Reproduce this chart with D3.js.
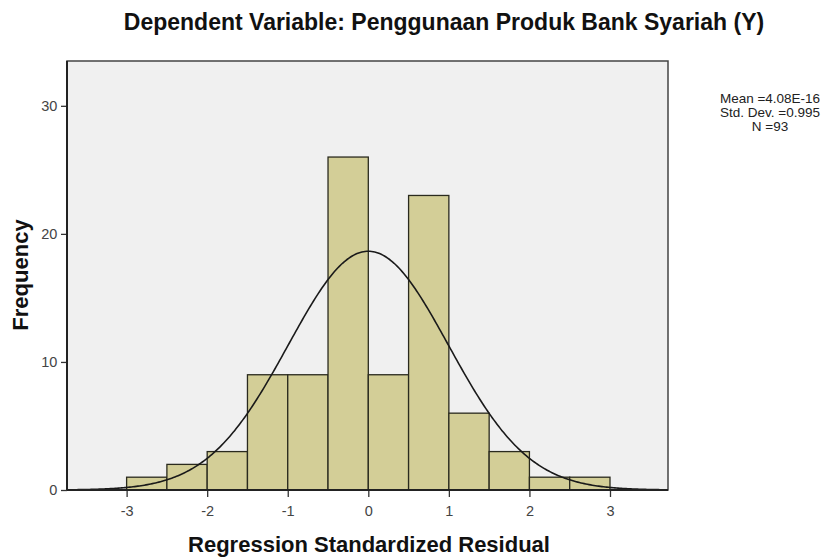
<!DOCTYPE html>
<html><head><meta charset="utf-8">
<script src="https://cdn.jsdelivr.net/npm/d3@7"></script>
<style>body{margin:0;background:#fff}</style>
</head><body>
<script>
const binStarts = [-3,-2.5,-2,-1.5,-1,-0.5,0,0.5,1,1.5,2,2.5];
const binWidth = 0.5;
const counts = [1,2,3,9,9,26,9,23,6,3,1,1];
const xTicks = [-3,-2,-1,0,1,2,3];
const yTicks = [0,10,20,30];
const stats = {mean: 4.08e-16, sd: 0.995, n: 93};
const statLines = ["Mean =4.08E-16","Std. Dev. =0.995","N =93"];
const title = "Dependent Variable: Penggunaan Produk Bank Syariah (Y)";

const W=838,H=559;
const L=67,R=668,T=61,B=490;
const FONT="Liberation Sans, Arial, sans-serif";
const svg=d3.select("body").append("svg").attr("width",W).attr("height",H);
const x=d3.scaleLinear().domain([-3.74,3.72]).range([L,R]);
const y=d3.scaleLinear().domain([0,33.5]).range([B,T]);

svg.append("rect").attr("x",L).attr("y",T).attr("width",R-L).attr("height",B-T)
  .attr("fill","#f0f0f0").attr("stroke","#444").attr("stroke-width",1.5);

svg.append("g").selectAll("rect").data(binStarts).join("rect")
  .attr("x",d=>x(d)).attr("width",d=>x(d+binWidth)-x(d))
  .attr("y",(d,i)=>y(counts[i])).attr("height",(d,i)=>y(0)-y(counts[i]))
  .attr("fill","#d3ce97").attr("stroke","#2a2a1e").attr("stroke-width",1.3);

const pts=d3.range(-3.74,3.721,0.02);
const dens=v=>stats.n*binWidth/(stats.sd*Math.sqrt(2*Math.PI))*Math.exp(-0.5*((v-stats.mean)/stats.sd)**2);
svg.append("path").datum(pts)
  .attr("d",d3.line().x(d=>x(d)).y(d=>y(dens(d))))
  .attr("fill","none").attr("stroke","#1a1a1a").attr("stroke-width",1.6);

const xa=svg.append("g").attr("transform",`translate(0,${B})`)
  .call(d3.axisBottom(x).tickValues(xTicks).tickSize(7).tickSizeOuter(0).tickFormat(d=>String(d)));
xa.select(".domain").remove();
xa.selectAll("line").attr("stroke","#333").attr("stroke-width",1.3);
xa.selectAll("text").attr("font-family",FONT).attr("font-size",14.5).attr("fill","#444").attr("dy","1.1em");

const ya=svg.append("g").attr("transform",`translate(${L},0)`)
  .call(d3.axisLeft(y).tickValues(yTicks).tickSize(6).tickSizeOuter(0).tickFormat(d=>String(d)));
ya.select(".domain").remove();
ya.selectAll("line").attr("stroke","#333").attr("stroke-width",1.3);
ya.selectAll("text").attr("font-family",FONT).attr("font-size",14.5).attr("fill","#444").attr("dx","-0.05em");

svg.append("line").attr("x1",L).attr("x2",R).attr("y1",B).attr("y2",B).attr("stroke","#222").attr("stroke-width",2);
svg.append("line").attr("x1",L).attr("x2",L).attr("y1",T).attr("y2",B).attr("stroke","#222").attr("stroke-width",2);

svg.append("text").attr("x",444).attr("y",30).attr("text-anchor","middle")
  .attr("font-family",FONT).attr("font-size",23).attr("font-weight","bold").attr("fill","#111").text(title);

svg.append("text").attr("x",369).attr("y",552).attr("text-anchor","middle")
  .attr("font-family",FONT).attr("font-size",22).attr("font-weight","bold").attr("fill","#111")
  .text("Regression Standardized Residual");

svg.append("text").attr("transform",`translate(28,275) rotate(-90)`).attr("text-anchor","middle")
  .attr("font-family",FONT).attr("font-size",22).attr("font-weight","bold").attr("fill","#111")
  .text("Frequency");

svg.append("g").selectAll("text").data(statLines).join("text")
  .attr("x",770).attr("y",(d,i)=>103+i*14).attr("text-anchor","middle")
  .attr("font-family",FONT).attr("font-size",13.5).attr("fill","#222").text(d=>d);
</script>
</body></html>
